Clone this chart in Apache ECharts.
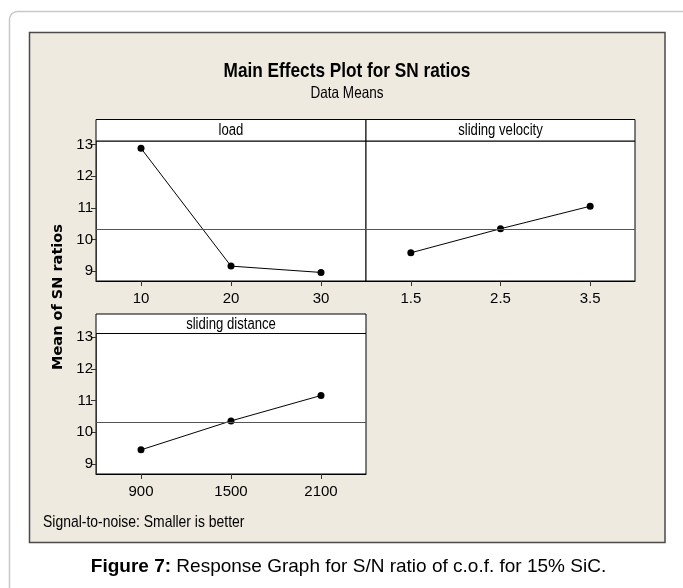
<!DOCTYPE html>
<html>
<head>
<meta charset="utf-8">
<script src="https://cdn.jsdelivr.net/npm/echarts@6/dist/echarts.min.js"></script>
<style>
html,body{margin:0;padding:0;background:#fff;}
#chart{width:683px;height:588px;}
</style>
</head>
<body>
<div id="chart"></div>
<script>
// ---- data ----
var loadCats = ['10', '20', '30'];
var loadVals = [12.88, 9.16, 8.96];
var velCats = ['1.5', '2.5', '3.5'];
var velVals = [9.58, 10.34, 11.05];
var distCats = ['900', '1500', '2100'];
var distVals = [9.45, 10.36, 11.16];
var meanSN = 10.32;
var yTicks = [9, 10, 11, 12, 13];
var panelNames = ['load', 'sliding velocity', 'sliding distance'];

var SANS = "'Liberation Sans', Arial, sans-serif";
var NX = 0.82; // horizontal squeeze to emulate a narrow face
var chart = echarts.init(document.getElementById('chart'), null, {renderer: 'canvas'});

var Y_MIN = 8.69, Y_MAX = 13.11;

function yAxisCfg(gi, showLabels) {
  return {
    type: 'value', gridIndex: gi, min: Y_MIN, max: Y_MAX,
    splitLine: {show: false},
    axisLine: {show: showLabels, lineStyle: {color: '#333', width: 1}},
    axisTick: {show: showLabels, customValues: yTicks, length: 5, lineStyle: {color: '#333'}},
    axisLabel: {show: showLabels, customValues: yTicks, fontFamily: SANS, fontSize: 15, color: '#000', margin: 3}
  };
}
function xAxisCfg(gi, cats) {
  return {
    type: 'category', gridIndex: gi, data: cats, boundaryGap: true,
    axisLine: {show: true, lineStyle: {color: '#000', width: 1}},
    axisTick: {show: true, alignWithLabel: true, length: 5, lineStyle: {color: '#333'}},
    axisLabel: {fontFamily: SANS, fontSize: 15, color: '#000', margin: 10},
    splitLine: {show: false}
  };
}
function seriesCfg(gi, vals) {
  return {
    type: 'line', xAxisIndex: gi, yAxisIndex: gi, data: vals,
    symbol: 'circle', symbolSize: 7, showSymbol: true,
    itemStyle: {color: '#000'},
    lineStyle: {color: '#000', width: 1},
    animation: false,
    markLine: {
      silent: true, symbol: ['none', 'none'], animation: false,
      label: {show: false},
      lineStyle: {color: '#555', width: 1, type: 'solid'},
      data: [{yAxis: meanSN}]
    }
  };
}
function txt(x, y, text, font, align, extra) {
  var o = {type: 'text', x: x, y: y, scaleX: NX, z: 11,
    style: {text: text, font: font, fill: '#000',
      align: align, verticalAlign: 'middle', textAlign: align, textVerticalAlign: 'middle'}};
  if (extra) for (var k in extra) o[k] = extra[k];
  return o;
}
function header(x, y, w, h, text) {
  return [
    {type: 'rect', shape: {x: x, y: y, width: w, height: h},
     style: {fill: '#fff', stroke: '#000', lineWidth: 1}, z: 10},
    txt(x + w / 2, y + h / 2 + 0.5, text, '16px ' + SANS, 'center')
  ];
}

var graphics = [
  {type: 'rect', shape: {x: 9.5, y: 11.5, width: 682, height: 600, r: 8},
   style: {fill: '#fff', stroke: '#c8c8c8', lineWidth: 1.5}, z: -20},
  {type: 'rect', shape: {x: 29.5, y: 32.5, width: 635.5, height: 510},
   style: {fill: '#EEEAE0', stroke: '#4a4a4a', lineWidth: 1.5}, z: -10},
  txt(347, 71, 'Main Effects Plot for SN ratios', 'bold 21px ' + SANS, 'center'),
  txt(347, 93, 'Data Means', '16.5px ' + SANS, 'center'),
  {type: 'text', x: 58, y: 297, rotation: Math.PI / 2,
   style: {text: 'Mean of SN ratios', font: "bold 14.5px 'DejaVu Sans', sans-serif", fill: '#000',
     align: 'center', verticalAlign: 'middle', textAlign: 'center', textVerticalAlign: 'middle'}},
  txt(43, 522, 'Signal-to-noise: Smaller is better', '17px ' + SANS, 'left'),
  {type: 'text', x: 348.5, y: 567, style: {
     text: '{b|Figure 7:}{r| Response Graph for S/N ratio of c.o.f. for 15% SiC.}',
     align: 'center', verticalAlign: 'middle', textAlign: 'center', textVerticalAlign: 'middle',
     rich: {
       b: {font: "bold 19px 'Liberation Sans', Arial, sans-serif", fill: '#000', color: '#000'},
       r: {font: "19px 'Liberation Sans', Arial, sans-serif", fill: '#000', color: '#000'}
     }}}
];
graphics = graphics.concat(header(96, 119.5, 270, 21.5, panelNames[0]));
graphics = graphics.concat(header(366, 119.5, 269, 21.5, panelNames[1]));
graphics = graphics.concat(header(96, 314, 270, 19.5, panelNames[2]));

var option = {
  backgroundColor: '#fff',
  animation: false,
  grid: [
    {left: 96, top: 141, width: 270, height: 140, show: true, backgroundColor: '#fff', borderColor: '#000', borderWidth: 1},
    {left: 366, top: 141, width: 269, height: 140, show: true, backgroundColor: '#fff', borderColor: '#000', borderWidth: 1},
    {left: 96, top: 333.5, width: 270, height: 140.5, show: true, backgroundColor: '#fff', borderColor: '#000', borderWidth: 1}
  ],
  xAxis: [xAxisCfg(0, loadCats), xAxisCfg(1, velCats), xAxisCfg(2, distCats)],
  yAxis: [yAxisCfg(0, true), yAxisCfg(1, false), yAxisCfg(2, true)],
  series: [seriesCfg(0, loadVals), seriesCfg(1, velVals), seriesCfg(2, distVals)],
  graphic: graphics
};
chart.setOption(option);
</script>
</body>
</html>
